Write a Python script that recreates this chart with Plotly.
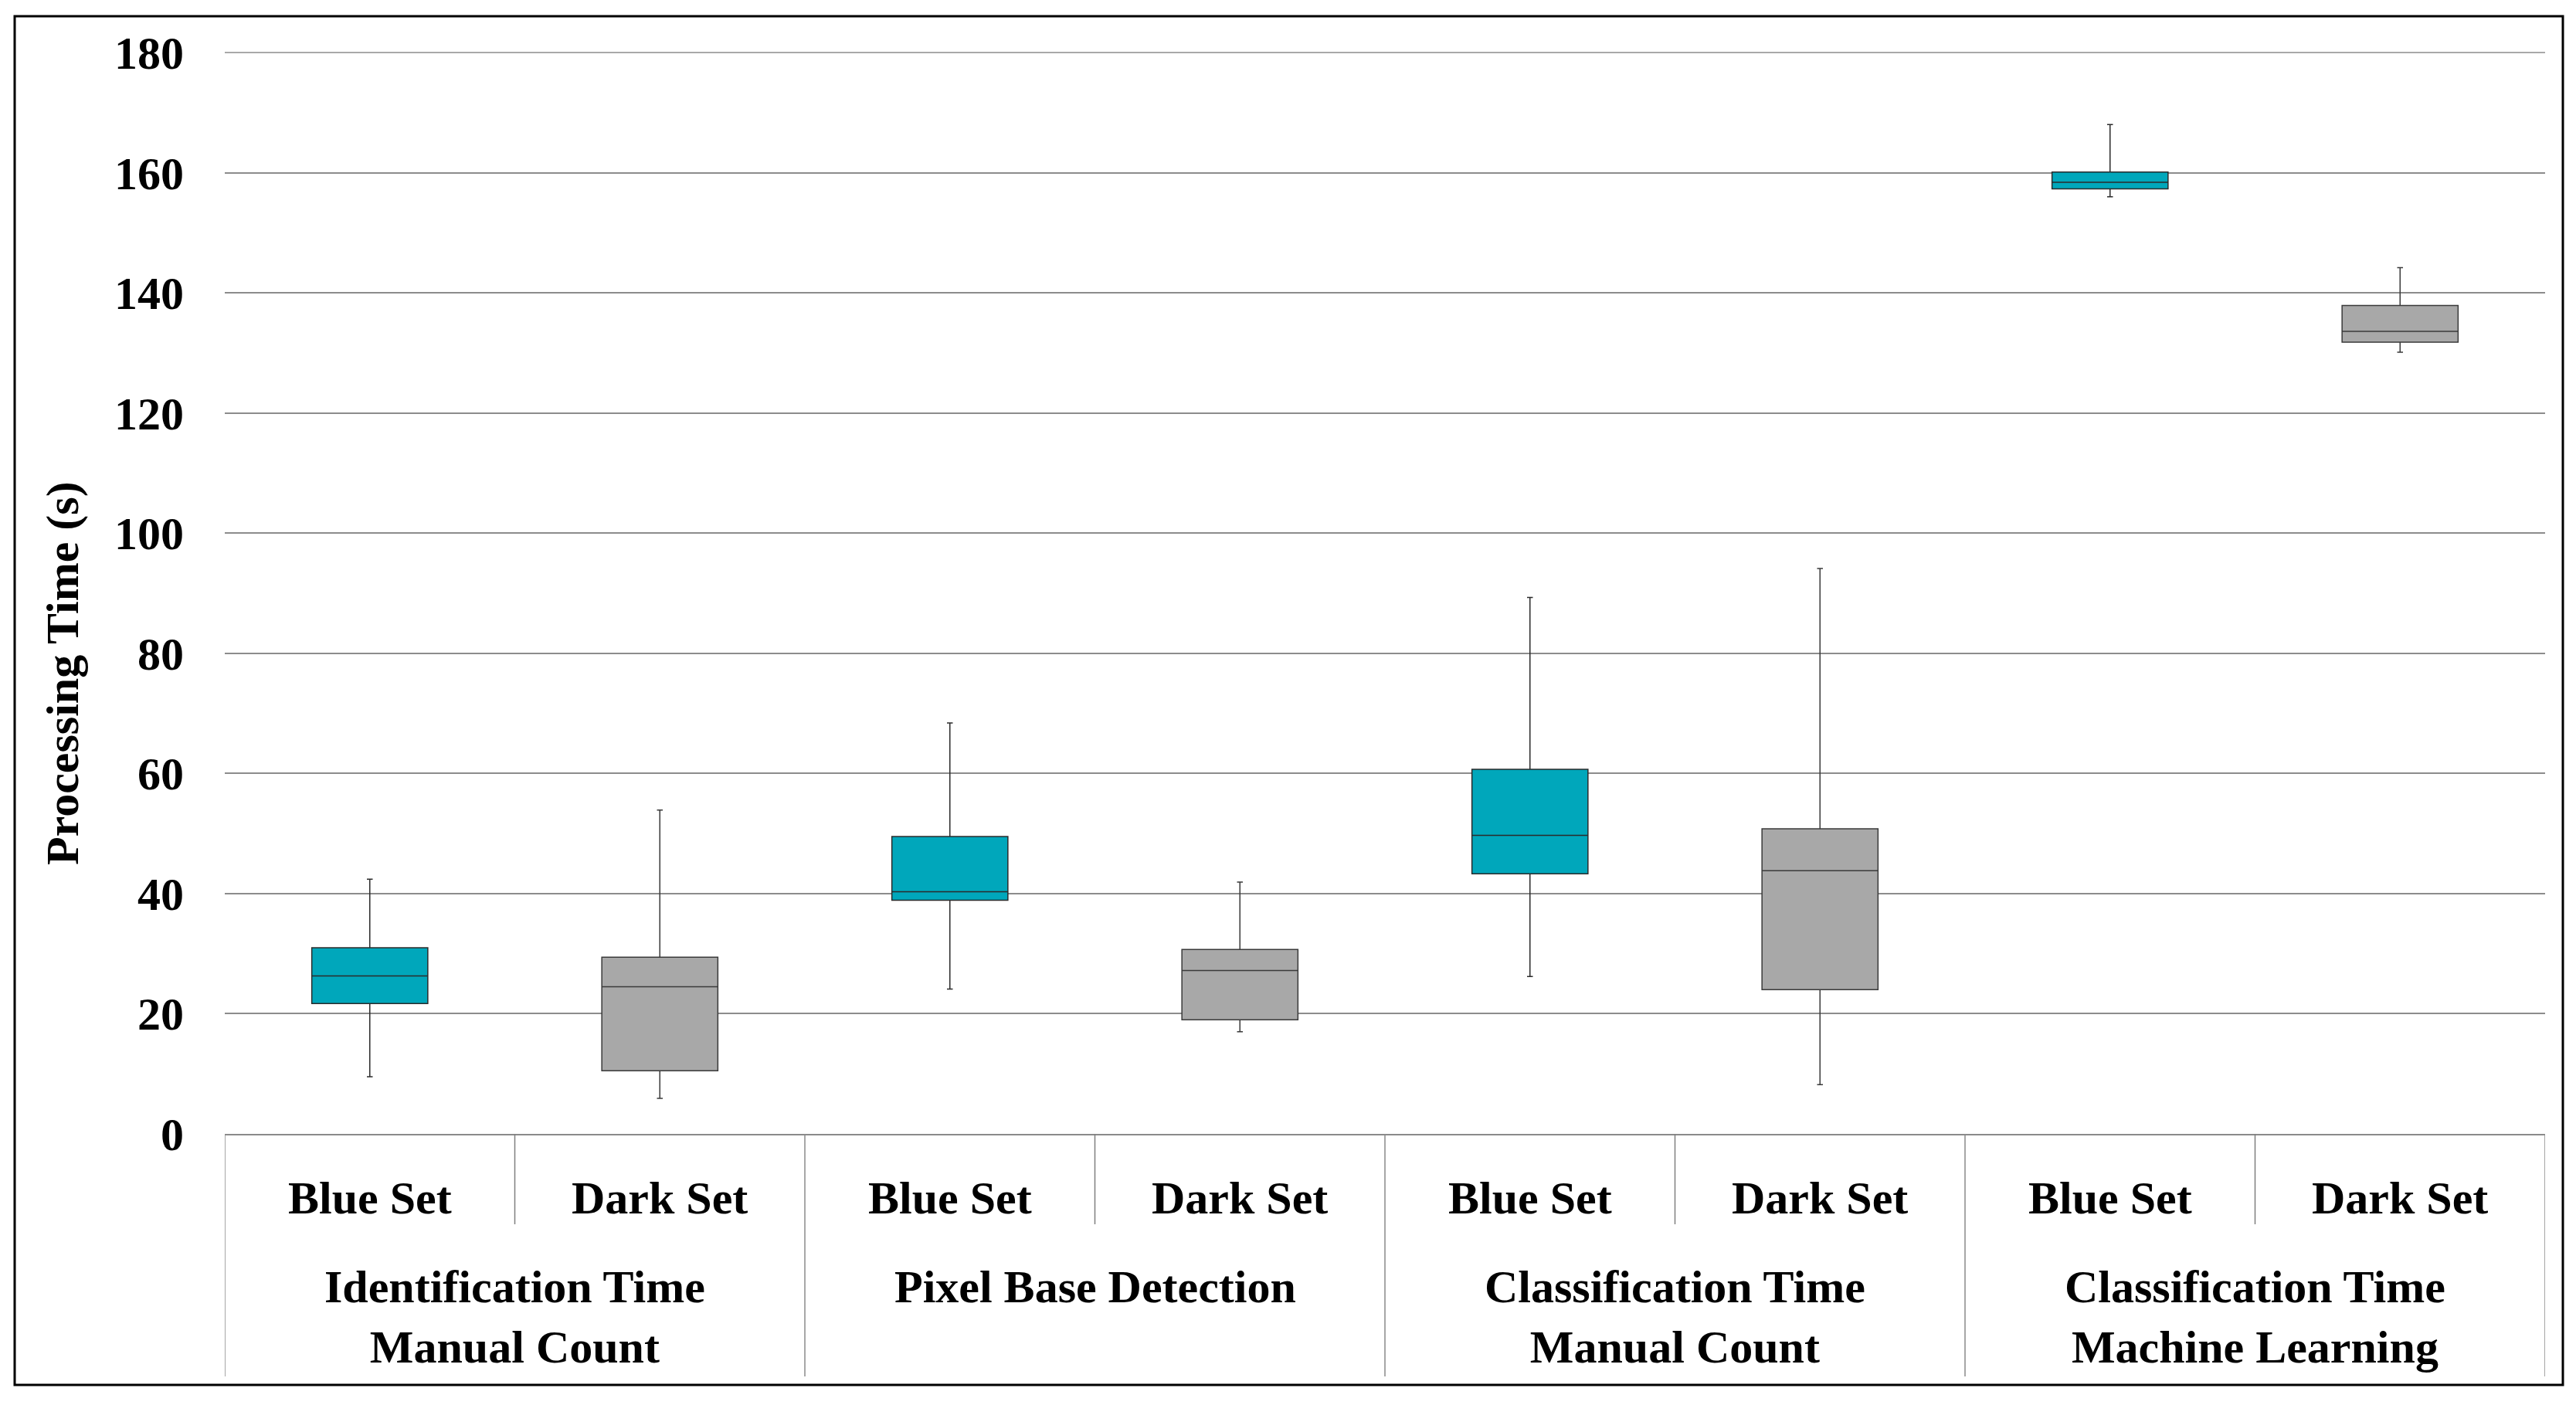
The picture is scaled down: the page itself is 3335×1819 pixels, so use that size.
import plotly.graph_objects as go

groups = ["Identification Time<br>Manual Count", "Pixel Base Detection",
          "Classification Time<br>Manual Count", "Classification Time<br>Machine Learning"]
subsets = ["Blue Set", "Dark Set"]

# Blue Set statistics per group
blue_low = [9.5, 24.1, 26.2, 156.0]
blue_q1 = [21.7, 38.9, 43.3, 157.3]
blue_med = [26.3, 40.3, 49.7, 158.4]
blue_q3 = [31.0, 49.5, 60.7, 160.1]
blue_high = [42.4, 68.4, 89.3, 168.0]

# Dark Set statistics per group
dark_low = [5.9, 17.0, 8.2, 130.1]
dark_q1 = [10.5, 19.0, 24.0, 131.8]
dark_med = [24.5, 27.2, 43.8, 133.6]
dark_q3 = [29.4, 30.7, 50.8, 137.9]
dark_high = [53.9, 41.9, 94.1, 144.2]

y_ticks = [0, 20, 40, 60, 80, 100, 120, 140, 160, 180]
y_title = "Processing Time (s)"

FONT = "Liberation Serif"
FS = 60

n_groups = len(groups)
blue_x = [2 * i for i in range(n_groups)]
dark_x = [2 * i + 1 for i in range(n_groups)]

fig = go.Figure()
fig.add_trace(go.Box(
    x=blue_x, q1=blue_q1, median=blue_med, q3=blue_q3,
    lowerfence=blue_low, upperfence=blue_high,
    width=0.4, whiskerwidth=0.05,
    fillcolor="#00A7BB", line=dict(color="#2b2b2b", width=1.5),
    boxpoints=False, name="Blue Set", showlegend=False,
))
fig.add_trace(go.Box(
    x=dark_x, q1=dark_q1, median=dark_med, q3=dark_q3,
    lowerfence=dark_low, upperfence=dark_high,
    width=0.4, whiskerwidth=0.05,
    fillcolor="#A8A8A8", line=dict(color="#3a3a3a", width=1.5),
    boxpoints=False, name="Dark Set", showlegend=False,
))

# plot area geometry (pixels)
W, H = 3335, 1819
L, R, T, B = 291, 40, 68, 351
pw, ph = W - L - R, H - T - B

def py(pix):
    return (H - B - pix) / ph

def px(pix):
    return (pix - L) / pw

annotations = []
shapes = []
# subset labels
for i in range(n_groups):
    for j, s in enumerate(subsets):
        annotations.append(dict(
            x=2 * i + j, y=py(1551), xref="x", yref="paper",
            text=s, showarrow=False, yanchor="middle", xanchor="center",
            font=dict(family=FONT, size=FS, color="black", weight="bold"),
        ))
    annotations.append(dict(
        x=2 * i + 0.5, y=py(1631), xref="x", yref="paper",
        text=groups[i], showarrow=False, yanchor="top", xanchor="center",
        font=dict(family=FONT, size=FS, color="black", weight="bold"),
    ))
    # short sub-divider
    shapes.append(dict(type="line", xref="x", yref="paper",
                       x0=2 * i + 0.5, x1=2 * i + 0.5, y0=0, y1=py(1585),
                       line=dict(color="#7f7f7f", width=1.5)))
# group dividers
for k in range(n_groups + 1):
    xv = 2 * k - 0.5
    shapes.append(dict(type="line", xref="x", yref="paper",
                       x0=xv, x1=xv, y0=0, y1=py(1782),
                       line=dict(color="#8a8a8a", width=1.5)))

# top gridline (at the range edge, not clipped)
shapes.append(dict(type="line", xref="paper", yref="paper",
                   x0=0, x1=1, y0=1, y1=1, layer="below",
                   line=dict(color="#8c8c8c", width=1.5)))

# outer border
shapes.append(dict(type="rect", xref="paper", yref="paper",
                   x0=px(19), x1=px(3318), y0=py(1793), y1=py(21),
                   line=dict(color="black", width=3)))

# y-axis title
annotations.append(dict(
    x=px(81), y=py(872), xref="paper", yref="paper",
    text=y_title, textangle=-90, showarrow=False,
    xanchor="center", yanchor="middle",
    font=dict(family=FONT, size=FS, color="black", weight="bold"),
))

fig.update_layout(
    width=W, height=H,
    margin=dict(l=L, r=R, t=T, b=B, pad=0),
    paper_bgcolor="white", plot_bgcolor="white",
    boxmode="overlay",
    showlegend=False,
    xaxis=dict(range=[-0.5, 2 * n_groups - 0.5], showticklabels=False,
               showgrid=False, zeroline=False, showline=True,
               linecolor="#8a8a8a", linewidth=1.5, ticks=""),
    yaxis=dict(range=[0, 180], tickvals=y_ticks, ticks="",
               showgrid=True, gridcolor="#8c8c8c", gridwidth=1.5,
               zeroline=False, showline=False,
               ticklabelstandoff=52,
               tickfont=dict(family=FONT, size=FS, color="black", weight="bold")),
    annotations=annotations,
    shapes=shapes,
)

fig.write_html("out.html")
